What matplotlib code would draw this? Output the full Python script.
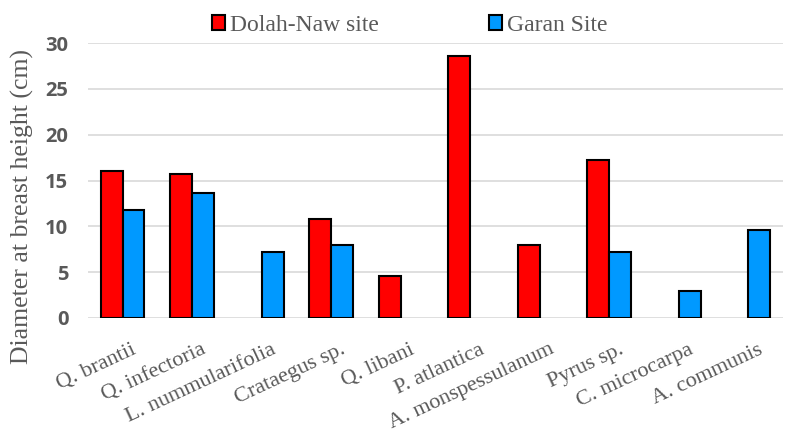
import numpy as np
from matplotlib import pyplot as plt
from matplotlib import transforms

species = ['Q. brantii', 'Q. infectoria', 'L. nummularifolia', 'Crataegus sp.', 'Q. libani',
           'P. atlantica', 'A. monspessulanum', 'Pyrus sp.', 'C. microcarpa', 'A. communis']
dolah_naw = [16.1, 15.7, 0, 10.8, 4.6, 28.6, 8.0, 17.3, 0, 0]
garan = [11.8, 13.6, 7.2, 8.0, 0, 0, 0, 7.2, 2.9, 9.6]

fig = plt.figure(figsize=(7.91, 4.32), dpi=100)
ax = fig.add_axes([0.111, 0.264, 0.879, 0.636])

x = np.arange(len(species))
w = 0.315
ax.bar(x - w / 2, dolah_naw, w, color='#ff0000', edgecolor='black',
       linewidth=[1.5 if v > 0 else 0 for v in dolah_naw], label='Dolah-Naw site', zorder=3)
ax.bar(x + w / 2, garan, w, color='#0099ff', edgecolor='black',
       linewidth=[1.5 if v > 0 else 0 for v in garan], label='Garan Site', zorder=3)

ax.set_xlim(-0.5, len(species) - 0.5)
ax.set_ylim(0, 30)
ax.set_yticks(range(0, 31, 5))
ax.yaxis.grid(True, color='#d9d9d9', linewidth=1.2, zorder=0)
for s in ['top', 'right', 'left', 'bottom']:
    ax.spines[s].set_visible(False)
ax.tick_params(length=0)

ax.set_yticklabels([str(v) for v in range(0, 31, 5)], fontsize=14.5, fontweight='bold',
                   color='#595959', family='Open Sans')
ax.tick_params(axis='y', pad=14)

ax.set_xticks(x)
ax.set_xticklabels(species, rotation=25, ha='right', va='top', rotation_mode='anchor',
                   fontsize=16, color='#595959', family='Liberation Serif')
ax.tick_params(axis='x', pad=16)
shift = transforms.ScaledTranslation(9 / 100, 0, fig.dpi_scale_trans)
for lab in ax.get_xticklabels():
    lab.set_transform(lab.get_transform() + shift)

ax.set_ylabel('Diameter at breast height (cm)', fontsize=18.5, color='#595959',
              family='Liberation Serif')
ax.yaxis.set_label_coords(-0.078, 0.407)

fig.legend(loc='upper center', bbox_to_anchor=(0.518, 1.015), ncol=2, frameon=False,
           prop={'family': 'Liberation Serif', 'size': 17}, labelcolor='#595959',
           handlelength=0.55, handleheight=0.55, handletextpad=0.2, columnspacing=4.7)

plt.savefig('out.png', dpi=100)
